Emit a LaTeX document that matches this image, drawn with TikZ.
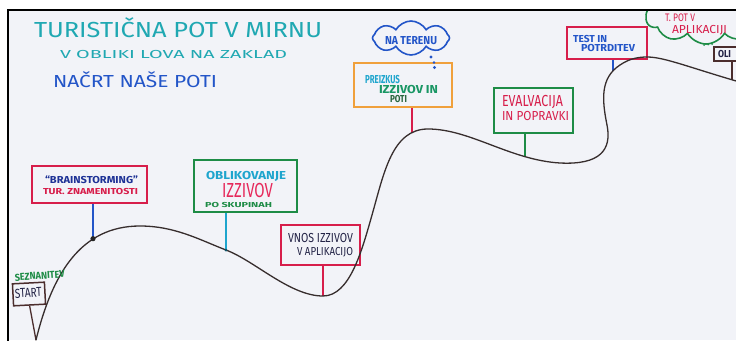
\documentclass[tikz,border=0pt]{standalone}
\usepackage{fontspec}
\setmainfont{Fira Sans}
\usetikzlibrary{shapes.symbols}
\definecolor{board}{RGB}{242,243,248}
\definecolor{teal}{RGB}{32,168,178}
\definecolor{blueT}{RGB}{35,85,200}
\definecolor{navy}{RGB}{30,50,150}
\definecolor{crim}{RGB}{215,30,75}
\definecolor{pinkred}{RGB}{230,40,90}
\definecolor{grn}{RGB}{30,140,70}
\definecolor{cyn}{RGB}{30,165,205}
\definecolor{orng}{RGB}{240,160,60}
\definecolor{brwn}{RGB}{75,45,45}
\definecolor{crv}{RGB}{55,45,45}
\definecolor{dnavy}{RGB}{35,35,70}
\definecolor{tgrn}{RGB}{25,150,100}
\definecolor{dgrn}{RGB}{40,100,60}
\newcommand\hw[3]{\resizebox{#1pt}{#2pt}{\raisebox{0pt}[\fontcharht\font`H][0pt]{#3}}}
\begin{document}
\begin{tikzpicture}[x=1pt,y=-1pt,
  txt/.style={inner sep=0pt, outer sep=0pt, anchor=south west},
  btxt/.style={txt, font=\bfseries},
  box/.style={rectangle, line width=2pt, inner sep=0pt},
  post/.style={line width=2pt},
  curve/.style={line width=1.3pt, color=crv, line cap=round},
  bubble/.style={cloud, cloud puff arc=120, aspect=2.3, line width=1.6pt, inner sep=0pt}]
\useasboundingbox (0,0) rectangle (736,340);
\fill[white] (0,0) rectangle (736,340);
\fill[board] (8,10) rectangle (736,340);
\begin{scope}
\clip (8,10) rectangle (736,340);
% titles
\node[txt, teal] (t1) at (34,37) {\hw{288}{15}{TURISTIČNA POT V MIRNU}};
\node[txt, teal] (t2) at (60,58) {\hw{227}{8}{V OBLIKI LOVA NA ZAKLAD}};
\node[txt, blueT] (t3) at (53,87) {\hw{164}{12}{NAČRT NAŠE POTI}};
% curve points
\coordinate (p0) at (36,340);
\coordinate (p1) at (93,238.7);
\coordinate (q1) at (140,226);
\coordinate (p2) at (226,250);
\coordinate (p3) at (323,296);
\coordinate (q3) at (372,215);
\coordinate (p4) at (412,132.6);
\coordinate (q4) at (428,129);
\coordinate (p5) at (525,156.4);
\coordinate (q5) at (560,163);
\coordinate (q6) at (607,125);
\coordinate (p6) at (613,70.5);
\coordinate (q7) at (620,65);
\coordinate (q8) at (647,57);
\coordinate (p7) at (732,79.6);
\coordinate (q9) at (750,85);
% boxes
\node[box, draw=crim, minimum width=115, minimum height=37] (b1) at (89.5,184.5) {};
\node[box, draw=grn, minimum width=103, minimum height=52] (b2) at (245.5,186) {};
\node[box, draw=crim, minimum width=79, minimum height=40] (b3) at (320.5,245) {};
\node[box, draw=orng, minimum width=98, minimum height=44] (b4) at (403,85) {};
\node[box, draw=grn, minimum width=79, minimum height=45] (b5) at (533.5,110.5) {};
\node[box, draw=crim, minimum width=80, minimum height=32] (b6) at (607,43) {};
\node[box, draw=brwn, line width=1.5pt, minimum width=32, minimum height=22, rotate=3] (b7) at (29,294) {};
\node[box, draw=brwn, line width=1.5pt, minimum width=32, minimum height=14] (b8) at (730,54) {};
% clouds
\node[bubble, draw=blueT, cloud puffs=8, minimum width=77, minimum height=34] (c1) at (411,38) {};
\fill[blueT] (431,57) circle (1.6) (434,62.5) circle (1.4) (434.5,67.5) circle (1.6);
\node[bubble, draw=grn, cloud puffs=10, minimum width=120, minimum height=54] (c2) at (706,17) {};
\fill[grn] (704,45) circle (1) (708,44.5) circle (1) (712,44) circle (1);
% posts
\draw[post, blueT] (b1.south -| p1) -- (p1);
\draw[post, cyn] (b2.south -| p2) -- (p2);
\draw[post, crim] (b3.south -| p3) -- (p3);
\draw[post, crim] (b4.south -| p4) -- (p4);
\draw[post, grn] (b5.south -| p5) -- (p5);
\draw[post, blueT] (b6.south -| p6) -- (p6);
\draw[post, brwn, line width=1.3pt] (b7.south) -- (p0);
\draw[post, brwn, line width=1.3pt] (b8.south -| p7) -- (p7);
% path
\draw[curve] (p0) .. controls (52,275) and (80,226) .. (q1)
  .. controls (175,226) and (200,240) .. (p2)
  .. controls (255,261) and (290,296) .. (p3)
  .. controls (350,296) and (362,250) .. (q3)
  .. controls (384,173) and (392,129) .. (q4)
  .. controls (470,129) and (510,160) .. (q5)
  .. controls (600,165) and (612,150) .. (q6)
  .. controls (602,100) and (600,78) .. (q7)
  .. controls (630,58) and (640,57) .. (q8)
  .. controls (665,57) and (690,68) .. (q9);
\fill[black!85] (p1) circle (2.6);
\fill[cyn!50!black] (p2) circle (1.5);
% box texts
\node[btxt, navy] (x1a) at (45,183) {\hw{93}{7}{“BRAINSTORMING”}};
\node[btxt, crim] (x1b) at (43,194) {\hw{95}{6}{TUR. ZNAMENITOSTI}};
\node[btxt, cyn] (x2a) at (206,179) {\hw{80}{8}{OBLIKOVANJE}};
\node[txt, pinkred] (x2b) at (222,197) {\hw{51}{14}{IZZIVOV}};
\node[btxt, grn] (x2c) at (205,207) {\hw{67}{5}{PO SKUPINAH}};
\node[txt, dnavy] (x3a) at (288,242) {\hw{65}{9}{VNOS IZZIVOV}};
\node[txt, dnavy] (x3b) at (297,255) {\hw{56}{8}{V APLIKACIJO}};
\node[btxt, cyn] (x4a) at (365,83) {\hw{35}{8}{PREIZKUS}};
\node[btxt, tgrn] (x4b) at (379,93) {\hw{59}{8}{IZZIVOV IN}};
\node[btxt, dgrn] (x4c) at (390,102) {\hw{17}{7}{POTI}};
\node[btxt, blueT] (xc1) at (385,45) {\hw{52}{8}{NA TERENU}};
\node[txt, crim] (x5a) at (502,106) {\hw{61}{11}{EVALVACIJA}};
\node[txt, crim] (x5b) at (502,120) {\hw{67}{9}{IN POPRAVKI}};
\node[btxt, blueT] (x6a) at (573,42) {\hw{34}{7}{TEST IN}};
\node[btxt, blueT] (x6b) at (581,52) {\hw{54}{7}{POTRDITEV}};
\node[txt, crim] (xc2a) at (665,21) {\hw{30}{7.5}{T. POT V}};
\node[txt, crim] (xc2b) at (672,33.5) {\hw{55}{8}{APLIKACIJI}};
\node[btxt, dnavy] (x8) at (718,57) {\hw{13}{7}{OLI}};
\node[txt, dnavy, rotate=3] (x7) at (15,298) {\hw{27}{9}{START}};
\node[btxt, grn, rotate=4] (x7b) at (15,281) {\hw{50}{7}{SEZNANITEV}};
\end{scope}
\draw[line width=2.5pt, black] (8,341) -- (8,10) -- (737,10);
\end{tikzpicture}
\end{document}
